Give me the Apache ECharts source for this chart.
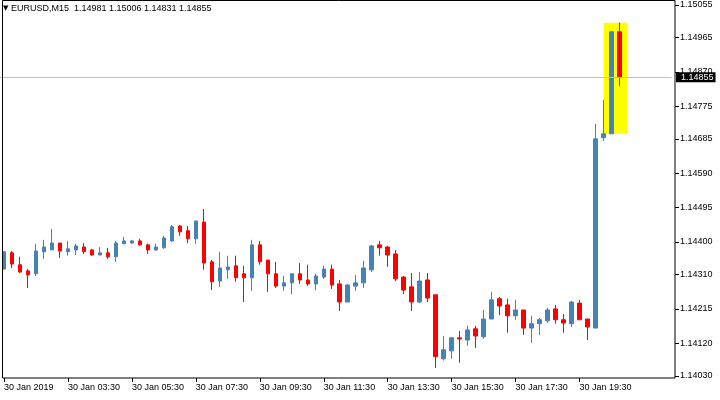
<!DOCTYPE html>
<html>
<head>
    <meta charset="utf-8">
    <script src="https://cdn.jsdelivr.net/npm/echarts@6/dist/echarts.min.js"></script>
    <style>
        html, body { margin: 0; padding: 0; background: #fff; }
    </style>
</head>
<body>
    <div id="main" style="width: 720px;height:400px"></div>

    <script type="text/javascript">
        var symbol = 'EURUSD,M15';
        var dateLabel = '30 Jan';
        var firstLabel = '30 Jan 2019';

        // 15 minute bars, 01:30 .. 20:45, then empty slots to the right edge
        var times = [
            '01:30','01:45','02:00','02:15','02:30','02:45','03:00','03:15',
            '03:30','03:45','04:00','04:15','04:30','04:45','05:00','05:15',
            '05:30','05:45','06:00','06:15','06:30','06:45','07:00','07:15',
            '07:30','07:45','08:00','08:15','08:30','08:45','09:00','09:15',
            '09:30','09:45','10:00','10:15','10:30','10:45','11:00','11:15',
            '11:30','11:45','12:00','12:15','12:30','12:45','13:00','13:15',
            '13:30','13:45','14:00','14:15','14:30','14:45','15:00','15:15',
            '15:30','15:45','16:00','16:15','16:30','16:45','17:00','17:15',
            '17:30','17:45','18:00','18:15','18:30','18:45','19:00','19:15',
            '19:30','19:45','20:00','20:15','20:30','20:45','21:00','21:15',
            '21:30','21:45','22:00','22:15'
        ];

        var opens = [
            1.14325,1.14370,1.14337,1.14320,1.14312,1.14373,1.14378,1.14397,1.14373,1.14378,
            1.14386,1.14378,1.14364,1.14370,1.14359,1.14395,1.14397,1.14403,1.14392,1.14378,
            1.14384,1.14403,1.14444,1.14431,1.14409,1.14455,1.14345,1.14292,1.14323,1.14334,
            1.14312,1.14301,1.14392,1.14350,1.14312,1.14278,1.14287,1.14312,1.14295,1.14284,
            1.14303,1.14325,1.14284,1.14234,1.14278,1.14287,1.14323,1.14392,1.14386,1.14367,
            1.14303,1.14276,1.14234,1.14295,1.14254,1.14077,1.14099,1.14135,1.14129,1.14160,
            1.14138,1.14187,1.14243,1.14226,1.14196,1.14212,1.14162,1.14174,1.14182,1.14215,
            1.14185,1.14174,1.14231,1.14187,1.14162,1.14688,1.14699,1.14981
        ];
        var closes = [
            1.14373,1.14339,1.14317,1.14309,1.14375,1.14386,1.14397,1.14375,1.14381,1.14389,
            1.14373,1.14364,1.14370,1.14359,1.14397,1.14403,1.14403,1.14392,1.14378,1.14386,
            1.14411,1.14442,1.14428,1.14409,1.14458,1.14342,1.14290,1.14328,1.14331,1.14301,
            1.14301,1.14392,1.14345,1.14312,1.14278,1.14287,1.14312,1.14295,1.14284,1.14306,
            1.14325,1.14281,1.14234,1.14281,1.14287,1.14328,1.14389,1.14384,1.14364,1.14298,
            1.14267,1.14234,1.14292,1.14245,1.14083,1.14102,1.14135,1.14132,1.14157,1.14140,
            1.14187,1.14240,1.14223,1.14196,1.14212,1.14162,1.14174,1.14185,1.14212,1.14185,
            1.14176,1.14234,1.14185,1.14165,1.14685,1.14699,1.14981,1.14855
        ];
        var highs = [
            1.14373,1.14375,1.14359,1.14325,1.14395,1.14406,1.14436,1.14397,1.14403,1.14395,
            1.14397,1.14381,1.14386,1.14384,1.14403,1.14414,1.14406,1.14409,1.14395,1.14395,
            1.14417,1.14447,1.14447,1.14444,1.14458,1.14491,1.14350,1.14373,1.14362,1.14362,
            1.14334,1.14406,1.14403,1.14350,1.14345,1.14306,1.14314,1.14342,1.14337,1.14312,
            1.14334,1.14337,1.14295,1.14284,1.14309,1.14348,1.14392,1.14403,1.14389,1.14378,
            1.14306,1.14314,1.14317,1.14314,1.14254,1.14140,1.14138,1.14154,1.14168,1.14168,
            1.14212,1.14262,1.14248,1.14243,1.14240,1.14212,1.14196,1.14190,1.14218,1.14226,
            1.14201,1.14237,1.14240,1.14187,1.14726,1.14793,1.14981,1.15006
        ];
        var lows = [
            1.14325,1.14328,1.14314,1.14273,1.14306,1.14353,1.14378,1.14356,1.14362,1.14364,
            1.14367,1.14362,1.14364,1.14353,1.14345,1.14395,1.14395,1.14389,1.14367,1.14375,
            1.14381,1.14400,1.14417,1.14397,1.14395,1.14323,1.14267,1.14276,1.14298,1.14290,
            1.14234,1.14265,1.14337,1.14262,1.14273,1.14265,1.14256,1.14284,1.14278,1.14267,
            1.14298,1.14270,1.14209,1.14234,1.14265,1.14273,1.14317,1.14362,1.14331,1.14292,
            1.14256,1.14209,1.14231,1.14234,1.14052,1.14072,1.14077,1.14066,1.14113,1.14107,
            1.14132,1.14187,1.14198,1.14149,1.14185,1.14143,1.14121,1.14143,1.14176,1.14174,
            1.14149,1.14165,1.14185,1.14129,1.14162,1.14679,1.14699,1.14831
        ];

        var priceTicks = [1.14030,1.14120,1.14215,1.14310,1.14400,1.14495,1.14590,1.14685,1.14775,1.14870,1.14965,1.15055];

        // highlighted box: from bar 75 to slot 78, price range of the last two bars
        var boxFrom = [75, 1.15006];
        var boxTo = [78, 1.14699];

        var candles = [];
        for (var i = 0; i < opens.length; i++) {
            candles.push([opens[i], closes[i], lows[i], highs[i]]);
        }
        var last = opens.length - 1;
        var fontFam = '"Liberation Sans", Arial, sans-serif';

        var myChart = echarts.init(document.getElementById('main'));
        var option = {
            animation: false,
            title: {
                left: 3,
                top: 4,
                padding: 0,
                text: '{t|▼} ' + symbol + '  ' + opens[last].toFixed(5) + ' ' + highs[last].toFixed(5) + ' ' +
                    lows[last].toFixed(5) + ' ' + closes[last].toFixed(5),
                textStyle: {
                    fontSize: 9, fontWeight: 'normal', color: '#000', fontFamily: fontFam,
                    rich: { t: { fontSize: 7, color: '#000', fontFamily: '"DejaVu Sans"' } }
                }
            },
            grid: {
                left: -0.5,
                top: 1,
                width: 672,
                height: 377
            },
            xAxis: {
                type: 'category',
                data: times,
                boundaryGap: true,
                axisLine: { show: false },
                axisTick: {
                    show: true,
                    interval: function (index) { return index % 8 === 0 && index <= last; },
                    alignWithLabel: true, length: 4,
                    lineStyle: { color: '#000' }
                },
                axisLabel: {
                    interval: function (index) { return index % 8 === 0 && index <= last; },
                    align: 'left',
                    margin: 5,
                    fontSize: 9,
                    color: '#000',
                    fontFamily: fontFam,
                    formatter: function (value, index) {
                        return index === 0 ? firstLabel : dateLabel + ' ' + value;
                    }
                },
                splitLine: { show: false }
            },
            yAxis: {
                type: 'value',
                position: 'right',
                offset: 3.5,
                min: 1.14024,
                max: 1.15066,
                scale: true,
                axisLine: { show: false },
                axisTick: {
                    show: true, length: 4, customValues: priceTicks,
                    lineStyle: { color: '#000' }
                },
                axisLabel: {
                    customValues: priceTicks,
                    margin: 5,
                    fontSize: 9,
                    color: '#000',
                    fontFamily: fontFam,
                    formatter: function (v) { return v.toFixed(5); }
                },
                splitLine: { show: false }
            },
            graphic: [{
                type: 'rect',
                z: 100,
                silent: true,
                shape: { x: 2.5, y: 0.5, width: 672.5, height: 377.5 },
                style: { fill: null, stroke: '#000', lineWidth: 1 }
            }],
            series: [{
                type: 'candlestick',
                data: candles,
                barWidth: 4,
                silent: true,
                itemStyle: {
                    color: '#4682B4',
                    color0: '#FF0000',
                    borderColor: '#4682B4',
                    borderColor0: '#FF0000',
                    borderColorDoji: '#FF0000',
                    borderWidth: 1
                },
                markArea: {
                    silent: true,
                    label: { show: false },
                    itemStyle: { color: '#FFFF00', opacity: 1 },
                    data: [[{ coord: boxFrom }, { coord: boxTo }]]
                }
            }, {
                // bid price line
                type: 'line',
                data: [],
                silent: true,
                markLine: {
                    silent: true,
                    precision: 5,
                    symbol: ['none', 'none'],
                    lineStyle: { color: '#C0C0C0', width: 1, type: 'solid' },
                    label: {
                        show: true,
                        position: 'end',
                        distance: 4.5,
                        backgroundColor: '#000',
                        color: '#fff',
                        padding: [1, 2, 0, 5],
                        fontSize: 9,
                        fontFamily: fontFam,
                        formatter: function (p) { return Number(p.value).toFixed(5); }
                    },
                    data: [{ yAxis: closes[last] }]
                }
            }]
        };

        myChart.setOption(option);
    </script>
</body>
</html>
